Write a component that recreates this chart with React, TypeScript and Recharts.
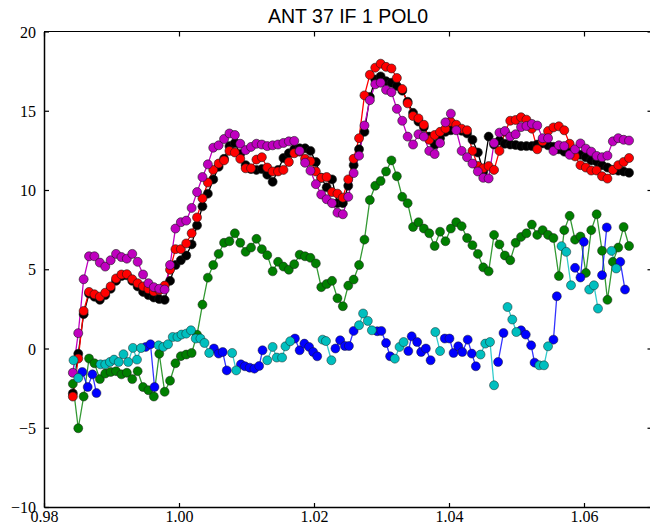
import React from 'react';
import { ComposedChart, Line, XAxis, YAxis } from 'recharts';

// shared sampling of the upper group (black / red / magenta / green)
const xs = [
  0.9842, 0.985, 0.9858, 0.9866, 0.9874, 0.9882, 0.989, 0.9898, 0.9906, 0.9914,
  0.9922, 0.993, 0.9938, 0.9946, 0.9954, 0.9962, 0.997, 0.9978, 0.9986, 0.9994,
  1.0002, 1.001, 1.0018, 1.0026, 1.0034, 1.0042, 1.005, 1.0058, 1.0066, 1.0074,
  1.0082, 1.009, 1.0098, 1.0106, 1.0114, 1.0122, 1.013, 1.0138, 1.0146, 1.0154,
  1.0162, 1.017, 1.0178, 1.0186, 1.0194, 1.0202, 1.021, 1.0218, 1.0226, 1.0234,
  1.0242, 1.025, 1.0258, 1.0266, 1.0274, 1.0282, 1.029, 1.0298, 1.0306, 1.0314,
  1.0322, 1.033, 1.0338, 1.0346, 1.0354, 1.0362, 1.037, 1.0378, 1.0386, 1.0394,
  1.0402, 1.041, 1.0418, 1.0426, 1.0434, 1.0442, 1.045, 1.0458, 1.0466, 1.0474,
  1.0482, 1.049, 1.0498, 1.0506, 1.0514, 1.0522, 1.053, 1.0538, 1.0546, 1.0554,
  1.0562, 1.057, 1.0578, 1.0586, 1.0594, 1.0602, 1.061, 1.0618, 1.0626, 1.0634,
  1.0642, 1.065, 1.0658, 1.0666,
];

const black = [
  -2.8, -0.3, 2.2, 3.5, 3.3, 3.1, 3.4, 3.8, 4.3, 4.6,
  4.65, 4.3, 3.95, 3.6, 3.4, 3.25, 3.15, 3.1, 4.3, 5.3,
  5.6, 5.9, 6.6, 7.8, 9.0, 9.8, 10.7, 11.5, 12.0, 12.8,
  13.0, 12.3, 11.6, 11.35, 11.3, 11.35, 11.0, 10.55, 11.3, 12.05,
  12.35, 12.6, 12.66, 12.66, 12.5, 11.8, 10.8, 10.2, 10.7, 9.2,
  9.2, 10.3, 11.6, 12.6, 13.7, 15.9, 17.0, 17.2, 16.9, 16.8,
  16.6, 16.3, 15.6, 14.9, 14.35, 14.0, 13.4, 12.9, 13.3, 13.7,
  13.8, 13.88, 13.77, 13.6, 13.2, 12.4, 11.2, 13.4, 12.9, 13.15,
  12.95, 12.9, 12.87, 12.8, 12.8, 12.8, 12.9, 12.97, 12.85, 12.76,
  12.6, 12.45, 12.4, 12.33, 12.25, 12.1, 11.9, 11.82, 11.6, 11.45,
  11.3, 11.25, 11.2, 11.12,
];

const red = [
  -3.0, -0.6, 2.4, 3.6, 3.45, 3.3, 3.55, 3.95, 4.45, 4.7,
  4.72, 4.4, 4.15, 3.95, 3.78, 3.62, 3.7, 4.0, 5.0, 6.3,
  6.3, 6.66, 7.3, 8.3, 9.5, 10.5, 11.3, 11.7, 11.9, 12.5,
  12.4, 12.0, 11.4, 11.4, 11.95, 12.1, 11.45, 11.2, 11.2, 11.3,
  11.8, 12.35, 12.45, 12.0, 11.85, 11.2, 10.8, 10.85, 9.9, 9.8,
  9.55, 10.7, 12.0, 13.3, 16.0, 17.3, 17.75, 18.0, 17.8, 17.7,
  17.1, 16.4, 15.5, 14.7, 14.55, 14.15, 13.2, 13.5, 13.7, 13.9,
  14.33, 14.15, 13.9, 13.8, 12.5, 11.55, 11.4, 11.54, 11.3, 12.5,
  13.7, 14.4, 14.45, 14.62, 14.47, 13.9, 12.6, 13.1, 13.75, 13.98,
  14.05, 13.8, 12.95, 12.15, 11.6, 11.45, 11.26, 11.26, 10.9, 10.75,
  11.3, 11.6, 11.8, 12.05,
];

const magenta = [
  -1.5, 1.0, 4.4, 5.85, 5.85, 5.45, 5.2, 5.6, 6.0, 5.8,
  5.7, 6.0, 5.5, 4.7, 4.15, 3.9, 3.8, 3.75, 5.3, 7.6,
  8.0, 8.1, 8.9, 9.9, 10.85, 11.65, 12.7, 12.85, 13.25, 13.6,
  13.5, 12.95, 12.55, 12.75, 12.95, 12.9, 12.8, 12.85, 12.9, 13.0,
  13.1, 13.13, 12.5, 11.75, 11.25, 10.4, 9.75, 9.45, 9.2, 8.6,
  8.5, 9.6, 11.1, 12.2, 14.1, 15.7, 16.7, 16.8, 16.35, 16.2,
  15.15, 14.4, 13.4, 12.9, 13.55, 13.4, 12.5, 12.3, 13.0, 14.3,
  14.85, 13.8, 12.5, 12.1, 11.7, 11.2, 10.8, 10.76, 13.0, 13.65,
  13.75, 13.4, 13.55, 14.0, 14.07, 14.2, 14.1, 13.3, 13.3, 12.5,
  12.85, 12.8, 12.25, 12.6, 12.97, 12.64, 12.45, 12.18, 12.1, 12.2,
  13.1, 13.3, 13.2, 13.15,
];

const green = [
  -2.2, -5.0, -3.0, -0.6, -0.9, -1.9, -1.55, -1.45, -1.4, -1.6,
  -1.5, -1.9, -1.4, -2.4, -2.6, -3.0, -0.3, -2.7, -2.0, -0.9,
  -0.45, -0.35, -0.25, 0.9, 2.8, 4.5, 5.3, 6.0, 6.7, 6.8,
  7.3, 6.7, 6.13, 6.4, 6.95, 6.3, 5.92, 4.9, 5.5, 5.2,
  5.0, 5.35, 5.95, 5.85, 5.75, 5.4, 3.9, 4.1, 4.3, 3.2,
  2.7, 4.0, 4.38, 5.3, 6.9, 9.4, 10.3, 10.6, 11.2, 11.9,
  10.9, 9.6, 9.2, 7.7, 8.0, 7.6, 7.3, 6.5, 7.4, 6.8,
  7.6, 8.0, 7.75, 7.0, 6.55, 6.0, 5.15, 4.9, 7.2, 6.6,
  5.9, 5.6, 6.7, 7.07, 7.3, 7.85, 7.2, 7.5, 7.2, 7.0,
  4.6, 7.5, 8.4, 6.9, 7.1, 4.8, 7.5, 8.5, 6.2, 3.1,
  5.5, 6.4, 7.7, 6.5,
];

// lower group: blue and cyan take turns on one finer sampling
const bottomX = [
  0.9843, 0.985, 0.9856, 0.9864, 0.9871, 0.9877, 0.9883, 0.989, 0.9897, 0.9903,
  0.991, 0.9917, 0.9924, 0.9931, 0.9937, 0.9943, 0.995, 0.9957, 0.9963, 0.9969,
  0.9976, 0.9983, 0.999, 0.9997, 1.0003, 1.001, 1.0017, 1.0024, 1.0031, 1.0037,
  1.0044, 1.0051, 1.0058, 1.0064, 1.007, 1.0078, 1.0084, 1.0091, 1.0097, 1.0104,
  1.0111, 1.0118, 1.0123, 1.013, 1.0138, 1.0144, 1.0152, 1.0157, 1.0164, 1.0171,
  1.0178, 1.0185, 1.0192, 1.0198, 1.0204, 1.0212, 1.0217, 1.0225, 1.0231, 1.0238,
  1.0245, 1.0251, 1.0258, 1.0266, 1.0272, 1.0279, 1.0285, 1.0293, 1.0299, 1.0306,
  1.0312, 1.0319, 1.0326, 1.0332, 1.0339, 1.0344, 1.0352, 1.0358, 1.0365, 1.0372,
  1.0379, 1.0386, 1.0393, 1.04, 1.0406, 1.0413, 1.0419, 1.0427, 1.0433, 1.0439,
  1.0446, 1.0453, 1.046, 1.0466, 1.0472, 1.048, 1.0486, 1.0493, 1.0499, 1.0506,
  1.0513, 1.0521, 1.0526, 1.0533, 1.054, 1.0546, 1.0554, 1.0559, 1.0566, 1.0573,
  1.058, 1.0586, 1.0594, 1.0599, 1.0607, 1.0614, 1.062, 1.0626, 1.0633, 1.064,
  1.0647, 1.0653, 1.066,
];

const _ = null;

const blue = [
  _, _, -1.45, -2.4, -1.6, -2.78, _, _, _, _,
  _, _, _, _, _, _, 0.13, 0.3, -2.4, _,
  _, _, _, _, _, _, _, _, _, _,
  _, 0.03, -0.29, -0.19, -1.35, _, _, -0.97, -1.09, -1.18,
  -1.24, -1.07, -0.08, _, _, _, _, _, _, 0.66,
  -0.08, 0.34, 0.13, -0.19, -0.46, _, _, _, 0.03, 0.55,
  0.19, 0.19, 1.14, _, _, _, _, 1.12, 1.14, 0.38,
  -0.46, _, _, _, -0.13, 0.8, 0.44, -0.19, 0.03, -0.71,
  _, _, 0.66, 0.66, -0.25, 0.17, -0.19, 0.59, -0.29, -1.09,
  _, _, _, _, -0.82, 1.01, _, _, _, 1.18,
  0.91, 0.23, -0.86, _, _, _, 0.59, 3.33, _, _,
  _, 5.12, 4.51, 6.76, _, _, _, 4.66, 7.67, _,
  _, 5.5, 3.75,
];

const cyan = [
  -0.71, -1.83, _, _, _, _, -0.97, -0.97, -0.82, -0.67,
  -0.82, -0.33, -0.82, 0.07, -0.67, 0.06, _, _, _, 0.23,
  0.13, 0.3, 0.76, 0.76, 0.91, 0.97, 1.18, 0.66, 0.66, 0.38,
  -0.25, _, _, _, _, -0.25, -1.35, _, _, _,
  _, _, _, -0.71, 0.13, -0.54, -0.54, 0.17, 0.49, _,
  _, _, _, _, _, 0.59, 0.5, -0.71, _, _,
  _, _, _, 1.5, 2.24, 1.77, 1.18, _, _, _,
  _, -0.61, 0.13, 0.44, _, _, _, _, _, _,
  1.07, -0.13, _, _, _, _, _, _, _, _,
  -0.35, 0.34, 0.44, -2.29, _, _, 2.65, 1.86, 1.07, _,
  _, _, _, -1.03, -1.03, 0.17, _, _, 6.49, 6.13,
  4.02, _, _, _, 3.75, 4.02, 2.55, _, _, 6.19,
  5.08, _, _,
];

const xTicks = [0.98, 1.0, 1.02, 1.04, 1.06];
const yTicks = [-10, -5, 0, 5, 10, 15, 20];

const topRows = xs.map((x, i) => ({
  x,
  black: black[i],
  red: red[i],
  magenta: magenta[i],
  green: green[i],
}));

const bottomRows = bottomX.map((x, i) => ({ x, blue: blue[i], cyan: cyan[i] }));

// plot box (matplotlib-like frame, right spine falls just past the window)
const W = 660;
const H = 525;
const PLOT_LEFT = 44.5;
const PLOT_TOP = 32;
const PLOT_RIGHT = 652;
const PLOT_BOTTOM = 507.5;
const TICK = 4.5;

const serif = 'Liberation Serif';

// bottom tick: label below, inward tick marks on bottom and top spines
const BottomTick = (props: any) => {
  const { x, payload } = props;
  return (
    <g>
      <rect x={x - 0.6} y={PLOT_BOTTOM - TICK} width={1.2} height={TICK} fill="#000" />
      <rect x={x - 0.6} y={PLOT_TOP} width={1.2} height={TICK} fill="#000" />
      <text x={x} y={PLOT_BOTTOM + 14} textAnchor="middle" fontFamily={serif} fontSize={16} fill="#000">
        {Number(payload.value).toFixed(2)}
      </text>
    </g>
  );
};

// left tick: label left, inward tick marks on left and right spines
const LeftTick = (props: any) => {
  const { y, payload } = props;
  return (
    <g>
      <rect x={PLOT_LEFT} y={y - 0.6} width={TICK} height={1.2} fill="#000" />
      <rect x={PLOT_RIGHT - TICK} y={y - 0.6} width={TICK} height={1.2} fill="#000" />
      <text x={PLOT_LEFT - 8.5} y={y} dy="0.35em" textAnchor="end" fontFamily={serif} fontSize={16} fill="#000">
        {String(payload.value).replace('-', '\u2212')}
      </text>
    </g>
  );
};

const dotFor = (color: string) => ({ r: 4.5, fill: color, stroke: '#1a1a1a', strokeWidth: 0.6, fillOpacity: 1 });

export default function App() {
  return (
    <div style={{ position: 'fixed', left: 0, top: 0, width: 650, height: 525, overflow: 'hidden', background: '#fff' }}>
      <ComposedChart
        width={W}
        height={H}
        data={topRows}
        margin={{ top: PLOT_TOP, right: W - PLOT_RIGHT, bottom: 0, left: PLOT_LEFT - 40 }}
      >
        <XAxis
          xAxisId="b"
          dataKey="x"
          type="number"
          domain={[0.98, 1.07]}
          ticks={xTicks}
          interval={0}
          allowDataOverflow
          height={H - PLOT_BOTTOM}
          tickSize={0}
          tickLine={false}
          stroke="#000"
          strokeWidth={1.5}
          tick={<BottomTick />}
        />
        <YAxis
          yAxisId="l"
          type="number"
          domain={[-10, 20]}
          ticks={yTicks}
          interval={0}
          allowDataOverflow
          width={40}
          tickSize={0}
          tickLine={false}
          stroke="#000"
          strokeWidth={1.5}
          tick={<LeftTick />}
        />

        <Line xAxisId="b" yAxisId="l" dataKey="black" stroke="#000" strokeWidth={1.3}
          dot={dotFor('#000')} activeDot={false} isAnimationActive={false} />
        <Line xAxisId="b" yAxisId="l" dataKey="red" stroke="#ff0000" strokeWidth={1.3}
          dot={dotFor('#ff0000')} activeDot={false} isAnimationActive={false} />
        <Line xAxisId="b" yAxisId="l" dataKey="magenta" stroke="#bf00bf" strokeWidth={1.3}
          dot={dotFor('#bf00bf')} activeDot={false} isAnimationActive={false} />
        <Line xAxisId="b" yAxisId="l" dataKey="green" stroke="#008000" strokeOpacity={0.8} strokeWidth={1.3}
          dot={dotFor('#007f00')} activeDot={false} isAnimationActive={false} />
        <Line xAxisId="b" yAxisId="l" data={bottomRows} dataKey="blue" stroke="#0000ff" strokeOpacity={0.8} strokeWidth={1.3}
          dot={dotFor('#0000ff')} activeDot={false} isAnimationActive={false} />
        <Line xAxisId="b" yAxisId="l" data={bottomRows} dataKey="cyan" stroke="#00bfbf" strokeOpacity={0.8} strokeWidth={1.3}
          dot={dotFor('#00bfbf')} activeDot={false} isAnimationActive={false} />
      </ComposedChart>
      {/* top and right spines of the frame, drawn over the chart */}
      <div
        style={{
          position: 'absolute',
          left: PLOT_LEFT - 0.75,
          top: PLOT_TOP - 0.75,
          width: PLOT_RIGHT - PLOT_LEFT,
          height: PLOT_BOTTOM - PLOT_TOP,
          borderTop: '1.5px solid #000',
          borderRight: '1.5px solid #000',
          pointerEvents: 'none',
        }}
      />
      {/* title */}
      <div style={{ position: 'absolute', left: 0, top: 0, width: 2 * 348, textAlign: 'center', fontFamily: 'Liberation Sans', fontSize: 19.5, lineHeight: '32px', color: '#000' }}>
        ANT 37 IF 1 POL0
      </div>
    </div>
  );
}
